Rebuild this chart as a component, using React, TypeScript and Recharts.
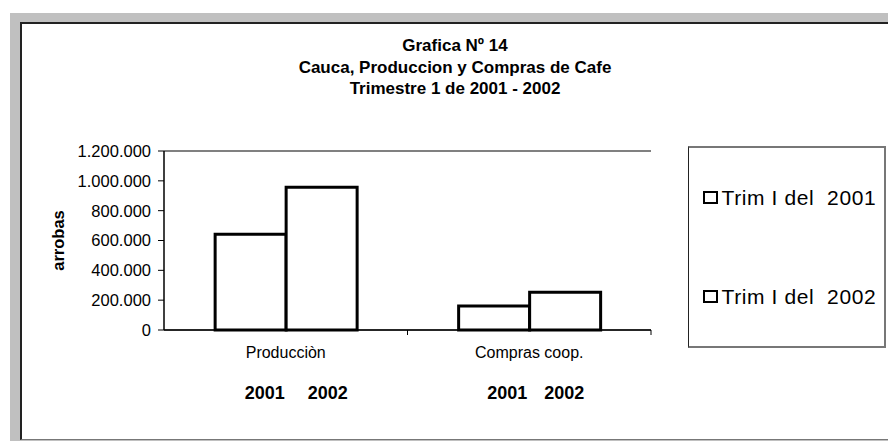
import React from 'react';
import { BarChart, Bar, XAxis, YAxis, CartesianGrid, Legend, ReferenceLine } from 'recharts';

const categories = ['Producciòn', 'Compras coop.'];
const trim2001 = [642000, 161000];
const trim2002 = [957000, 253000];
const seriesNames = ['Trim I del  2001', 'Trim I del  2002'];
const yTicks = [0, 200000, 400000, 600000, 800000, 1000000, 1200000];
const yearLabels = ['2001', '2002'];
const titleLines = ['Grafica Nº 14', 'Cauca, Produccion y Compras de Cafe', 'Trimestre 1 de 2001 - 2002'];
const yLabel = 'arrobas';

const data = categories.map((c, i) => ({ name: c, a: trim2001[i], b: trim2002[i] }));

const FONT = "Arial, 'Liberation Sans', sans-serif";
const W = 888;
const H = 441;
const M = { top: 151, left: 24, right: 237, bottom: 51 };
const Y_W = 140;
const X_H = 60;
const PLOT_W = W - M.left - Y_W - M.right;
const HALF_BAND = PLOT_W / categories.length / 2;

const fmt = (n: number) => String(n).replace(/\B(?=(\d{3})+(?!\d))/g, '.');

const yearOffsets = [
  [-21, 42],
  [-22, 35],
];

const CatTick = (props: any) => {
  const { x, y, payload, index } = props;
  const offs = yearOffsets[index] || yearOffsets[0];
  return (
    <g>
      <line x1={x + HALF_BAND} x2={x + HALF_BAND} y1={y} y2={y + 5} stroke="#000" strokeWidth={1} />
      <text x={x} y={y + 22} textAnchor="middle" dominantBaseline="central" fontSize={16} fill="#000" fontFamily={FONT}>
        {payload.value}
      </text>
      {yearLabels.map((t, k) => (
        <text
          key={k}
          x={x + offs[k]}
          y={y + 63}
          textAnchor="middle"
          dominantBaseline="central"
          fontSize={18}
          fontWeight="bold"
          fill="#000"
          fontFamily={FONT}
        >
          {t}
        </text>
      ))}
    </g>
  );
};

const YLabel = (props: any) => {
  const vb = props.viewBox || { x: M.left, y: M.top, width: Y_W, height: H - M.top - M.bottom - X_H };
  const cx = vb.x + 33.5;
  const cy = vb.y + vb.height / 2;
  return (
    <text
      x={cx}
      y={cy}
      transform={`rotate(-90 ${cx} ${cy})`}
      textAnchor="middle"
      dominantBaseline="central"
      fontSize={16.5}
      fontWeight="bold"
      fill="#000"
      fontFamily={FONT}
    >
      {yLabel}
    </text>
  );
};

const LegendBox = (props: any) => {
  const payload = props.payload || [];
  return (
    <div
      style={{
        width: 198,
        height: 202,
        boxSizing: 'border-box',
        borderLeft: '1.5px solid #222',
        borderTop: '2px solid #777',
        borderRight: '2px solid #777',
        borderBottom: '2px solid #777',
        background: '#fff',
        display: 'flex',
        flexDirection: 'column',
        justifyContent: 'space-around',
        fontFamily: FONT,
      }}
    >
      {payload.map((entry: any, i: number) => (
        <div key={i} style={{ display: 'flex', alignItems: 'center', paddingLeft: 13.5 }}>
          <span
            style={{
              display: 'inline-block',
              width: 11,
              height: 9,
              border: '2px solid #000',
              background: '#fff',
              marginRight: 4,
            }}
          />
          <span style={{ fontSize: 21, whiteSpace: 'pre', letterSpacing: 0.6, color: '#000', lineHeight: '22px' }}>
            {entry.value}
          </span>
        </div>
      ))}
    </div>
  );
};

export default function App() {
  return (
    <div style={{ position: 'absolute', left: 0, top: 0, width: W, height: H, background: '#fff', overflow: 'hidden' }}>
      <div style={{ position: 'absolute', left: 10, top: 13, width: W - 10, height: H - 13, background: '#c0c0c0' }} />
      <div
        style={{
          position: 'absolute',
          left: 20,
          top: 22,
          width: W - 20 + 10,
          height: H - 22 - 1,
          boxSizing: 'border-box',
          background: '#fff',
          borderLeft: '2px solid #222',
          borderTop: '2px solid #222',
          borderBottom: '1px solid #777',
        }}
      />
      <div
        style={{
          position: 'absolute',
          left: 255,
          top: 35,
          width: 400,
          textAlign: 'center',
          fontFamily: FONT,
          fontWeight: 'bold',
          fontSize: 17,
          lineHeight: '21.5px',
          color: '#000',
        }}
      >
        {titleLines.map((t, i) => (
          <div key={i}>{t}</div>
        ))}
      </div>
      <div style={{ position: 'absolute', left: 0, top: 0 }}>
        <BarChart width={W} height={H} data={data} margin={M} barGap={0} barCategoryGap="21%">
          <CartesianGrid vertical={false} stroke="#333" strokeWidth={1} />
          <XAxis
            dataKey="name"
            height={X_H}
            tickLine={false}
            tickSize={0}
            tickMargin={0}
            axisLine={{ stroke: '#000', strokeWidth: 1.5 }}
            tick={<CatTick />}
            interval={0}
          />
          <YAxis
            yAxisId="l"
            width={Y_W}
            domain={[0, 1200000]}
            ticks={yTicks}
            interval={0}
            tickFormatter={fmt}
            tickSize={6}
            tickMargin={7}
            tick={{ fontSize: 16.5, fill: '#000', fontFamily: FONT }}
            axisLine={{ stroke: '#000', strokeWidth: 1.5 }}
            tickLine={{ stroke: '#000', strokeWidth: 1 }}
            label={{ value: yLabel, content: <YLabel /> }}
          />
          <YAxis
            yAxisId="r"
            orientation="right"
            width={0}
            domain={[0, 1200000]}
            tick={false}
            tickLine={false}
            axisLine={{ stroke: '#808080', strokeWidth: 2 }}
          />
          <ReferenceLine yAxisId="l" y={1200000} stroke="#808080" strokeWidth={2} />
          <Legend
            layout="horizontal"
            align="center"
            verticalAlign="middle"
            wrapperStyle={{ position: 'absolute', left: 688, top: 146, width: 198, height: 202 }}
            content={<LegendBox />}
          />
          <Bar yAxisId="l" dataKey="a" name={seriesNames[0]} fill="#fff" stroke="#000" strokeWidth={3} isAnimationActive={false} />
          <Bar yAxisId="l" dataKey="b" name={seriesNames[1]} fill="#fff" stroke="#000" strokeWidth={3} isAnimationActive={false} />
        </BarChart>
      </div>
    </div>
  );
}
